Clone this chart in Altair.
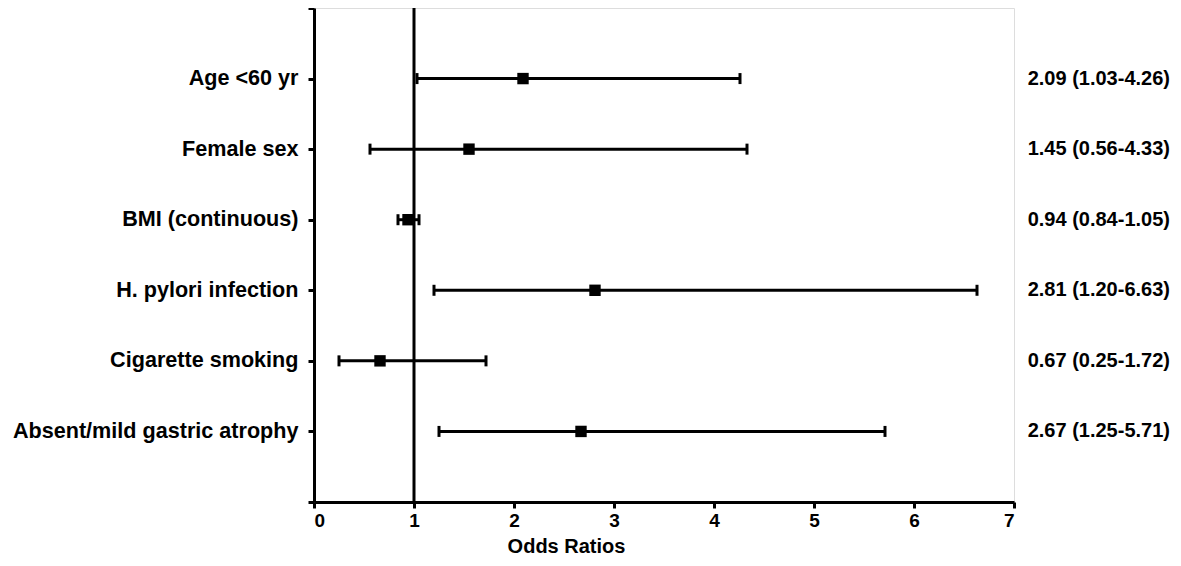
import altair as alt
import pandas as pd

categories = ["Age <60 yr", "Female sex", "BMI (continuous)", "H. pylori infection",
              "Cigarette smoking", "Absent/mild gastric atrophy"]
positions = [6, 5, 4, 3, 2, 1]
odds = [2.09, 1.55, 0.94, 2.81, 0.66, 2.67]
lower = [1.03, 0.56, 0.84, 1.20, 0.25, 1.25]
upper = [4.26, 4.33, 1.05, 6.63, 1.72, 5.71]
labels = ["2.09 (1.03-4.26)", "1.45 (0.56-4.33)", "0.94 (0.84-1.05)",
          "2.81 (1.20-6.63)", "0.67 (0.25-1.72)", "2.67 (1.25-5.71)"]
x_ticks = [0, 1, 2, 3, 4, 5, 6, 7]
y_ticks = [0, 1, 2, 3, 4, 5, 6, 7]

df = pd.DataFrame({"cat": categories, "pos": positions, "or": odds,
                   "lo": lower, "hi": upper, "label": labels})

expr = "".join(f"datum.value == {p} ? '{c}' : " for p, c in zip(positions, categories)) + "''"

FONT = "Liberation Sans"
LW = 3

x_scale = alt.Scale(domain=[0, 7], nice=False, zero=False)
y_scale = alt.Scale(domain=[0, 7], nice=False, zero=False)

x_enc = alt.X("lo:Q", scale=x_scale, axis=alt.Axis(
    values=x_ticks, title="Odds Ratios", grid=False, format="d",
    labelFont=FONT, labelFontSize=19, labelFontWeight="bold", labelColor="black",
    titleFont=FONT, titleFontSize=20, titleFontWeight="bold", titleColor="black",
    titleX=252, titleAlign="center",
    domainColor="black", domainWidth=LW, tickColor="black", tickWidth=LW, tickSize=6,
    labelPadding=3, titlePadding=6))
y_enc = alt.Y("pos:Q", scale=y_scale, axis=alt.Axis(
    values=y_ticks, labelExpr=expr, title=None, grid=False, labelLimit=0,
    labelFont=FONT, labelFontSize=21.6, labelFontWeight="bold", labelColor="black",
    domainColor="black", domainWidth=LW, tickColor="black", tickWidth=LW, tickSize=6,
    labelPadding=10))

base = alt.Chart(df)

bars = base.mark_rule(color="black", strokeWidth=LW).encode(x=x_enc, x2="hi:Q", y=y_enc)
cap_lo = base.mark_tick(color="black", orient="vertical", size=11, thickness=LW, opacity=1).encode(
    x=alt.X("lo:Q", scale=x_scale), y=alt.Y("pos:Q", scale=y_scale))
cap_hi = base.mark_tick(color="black", orient="vertical", size=11, thickness=LW, opacity=1).encode(
    x=alt.X("hi:Q", scale=x_scale), y=alt.Y("pos:Q", scale=y_scale))
ref = alt.Chart(pd.DataFrame({"v": [1]})).mark_rule(color="black", strokeWidth=LW).encode(
    x=alt.X("v:Q", scale=x_scale))
pts = base.mark_square(color="black", size=130, opacity=1).encode(
    x=alt.X("or:Q", scale=x_scale), y=alt.Y("pos:Q", scale=y_scale))
txt = base.mark_text(align="right", baseline="middle", font=FONT, fontSize=20,
                     fontWeight="bold", color="black").encode(
    x=alt.value(856), y=alt.Y("pos:Q", scale=y_scale), text="label:N")

chart = alt.layer(bars, ref, cap_lo, cap_hi, pts, txt).properties(
    width=700, height=494,
    autosize=alt.AutoSizeParams(type="none"),
    padding={"left": 306, "top": 0, "right": 159, "bottom": 56},
).configure_view(stroke=None).configure(background="white")

chart.save("out.html", embed_options={"renderer": "svg", "actions": False})
